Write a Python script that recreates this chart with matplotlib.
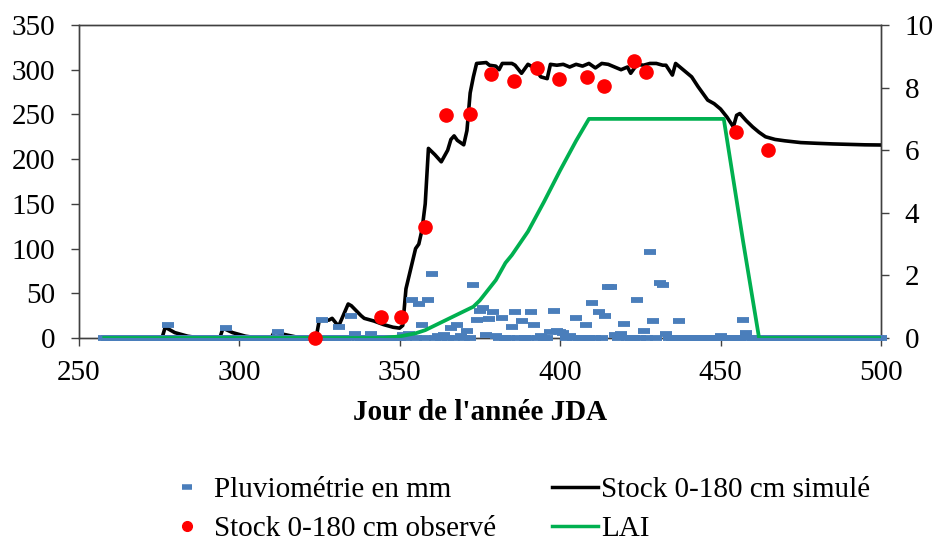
import numpy as np
import matplotlib
matplotlib.use("Agg")
import matplotlib.pyplot as plt
from matplotlib.lines import Line2D

plt.rcParams['font.family'] = ['Liberation Serif', 'DejaVu Serif']

# ---------------- data ----------------
# Daily rainfall (mm): every day 258..500, nonzero days listed below
rain_all_days = np.arange(258, 501)
rain_days = [278, 296, 312, 326, 331, 335, 336, 341, 351, 353, 354, 356, 357, 359, 360,
             362, 364, 366, 368, 369, 371, 373, 374, 375, 376, 377, 378, 379, 380, 382,
             385, 386, 388, 391, 392, 394, 397, 398, 399, 400, 401, 403, 405, 408, 410,
             412, 414, 415, 416, 417, 419, 420, 424, 426, 428, 429, 431, 432, 433, 437,
             450, 457, 458]
rain_mm = [14, 11, 7, 20, 12, 25, 5, 4, 3, 5, 43, 38, 14, 43, 72,
           2, 3, 11, 15, 2, 8, 59, 20, 30, 34, 3, 21, 29, 2, 22,
           12, 29, 19, 29, 15, 2, 7, 30, 8, 7, 6, 2, 22, 15, 39,
           29, 25, 57, 57, 3, 5, 16, 42, 8, 96, 19, 62, 59, 4, 19,
           2, 20, 6]

# Observed soil water stock 0-180 cm (mm)
obs_days = [323.6, 344.1, 350.6, 357.9, 364.6, 371.9, 378.6, 385.8, 392.7, 399.7,
            408.5, 413.6, 422.9, 426.9, 454.7, 464.9]
obs_mm = [0, 23, 23, 124, 249, 250, 295, 287, 302, 290,
          292, 282, 310, 297, 230, 210]

# Simulated soil water stock 0-180 cm (mm)
sim_days = [258, 276, 277, 280, 284, 288, 294, 295, 298, 302, 306, 310, 311, 314, 318,
            323, 324, 325, 328, 329, 331, 334, 335, 338, 339, 342, 345, 348, 350, 351,
            352, 353, 354, 355, 356, 357, 358, 359, 361, 363, 365, 366, 367, 368, 370,
            371, 372, 373, 374, 377, 378, 380, 381, 382, 385, 386, 388, 390, 392, 394,
            396, 397, 399, 401, 403, 405, 407, 409, 411, 413, 415, 417, 419, 421, 422,
            424, 426, 428, 430, 432, 433, 435, 436, 439, 441, 443, 446, 448, 450, 452,
            454, 455, 456, 458, 460, 462, 464, 467, 470, 475, 480, 485, 490, 495, 500]
sim_mm = [0, 0, 12, 6, 2, 0, 0, 11, 6, 2, 0, 0, 7, 4, 1,
          0, 0, 20, 20, 22, 13, 38, 36, 25, 22, 19, 15, 12, 11, 14,
          55, 70, 85, 100, 105, 121, 150, 212, 205, 197, 210, 222, 226, 221, 216,
          232, 274, 292, 307, 308, 305, 304, 300, 307, 307, 305, 296, 306, 302, 292,
          290, 306, 305, 306, 303, 306, 304, 307, 302, 307, 306, 303, 300, 303, 296,
          306, 305, 307, 307, 305, 305, 294, 307, 298, 292, 281, 266, 262, 256, 247,
          236, 249, 251, 243, 236, 230, 225, 222, 220.5, 218.5, 217.7, 217, 216.5, 216, 215.8]

# Leaf area index
lai_days = [258, 345, 350, 355, 358, 362, 365, 370, 373, 375, 380, 383, 385, 390, 395,
            400, 405, 409, 451, 457, 462, 500]
lai = [0, 0, 0.05, 0.15, 0.25, 0.45, 0.6, 0.85, 1.0, 1.2, 1.85, 2.4, 2.65, 3.4, 4.35,
       5.35, 6.3, 7.0, 7.0, 3.1, 0, 0]

x_ticks = [250, 300, 350, 400, 450, 500]
y_ticks = [0, 50, 100, 150, 200, 250, 300, 350]
y2_ticks = [0, 2, 4, 6, 8, 10]

# ---------------- figure ----------------
fig = plt.figure(figsize=(9.36, 5.42), dpi=100)
ax = fig.add_axes([0.0839, 0.3764, 0.9413 - 0.0839, 0.9539 - 0.3764])
ax2 = ax.twinx()
ax.set_zorder(ax2.get_zorder() + 1)
ax.patch.set_visible(False)

ax.set_xlim(250, 500)
ax.set_ylim(0, 350)
ax2.set_ylim(0, 10)

blue = '#4A7EBB'
green = '#00B050'

rain_full = np.zeros(len(rain_all_days))
for d, v in zip(rain_days, rain_mm):
    rain_full[d - 258] = v

ax.plot(sim_days, sim_mm, color='black', lw=2.6, zorder=2, solid_joinstyle='round')
ax.plot(rain_all_days, rain_full, ls='none', marker='_', ms=9, mew=4.2,
        color=blue, zorder=3, clip_on=False)
ax.plot(lai_days, lai, color=green, lw=2.7, zorder=4, transform=ax2.transData)
ax.plot(obs_days, obs_mm, ls='none', marker='o', ms=9.5, color='#FF0000',
        mec='#FF0000', zorder=5, clip_on=False)

spine_c = '#404040'
for a in (ax, ax2):
    for s in a.spines.values():
        s.set_color(spine_c)
        s.set_linewidth(1.0)

ax.set_xticks(x_ticks)
ax.set_yticks(y_ticks)
ax2.set_yticks(y2_ticks)
ax.tick_params(axis='x', direction='out', length=6, width=1, color=spine_c,
               labelsize=21, pad=10)
ax.tick_params(axis='y', direction='out', length=6, width=1, color=spine_c,
               labelsize=21, pad=11)
ax2.tick_params(axis='y', direction='out', length=6, width=1, color=spine_c,
                labelsize=21, pad=11)

ax.set_xlabel("Jour de l'année JDA", fontsize=21, fontweight='bold', labelpad=9)

handles = [
    Line2D([], [], ls='none', marker='_', ms=7, mew=4, color=blue),
    Line2D([], [], ls='none', marker='o', ms=7, color='#FF0000'),
    Line2D([], [], color='black', lw=2.5),
    Line2D([], [], color=green, lw=2.5),
]
labels = ['Pluviométrie en mm', 'Stock 0-180 cm observé',
          'Stock 0-180 cm simulé', 'LAI']
fig.legend(handles, labels, ncol=2, loc='center', bbox_to_anchor=(0.5525, 0.0605),
           frameon=False, fontsize=21, handlelength=1.6, handletextpad=0.1,
           columnspacing=1.92, labelspacing=0.42)

fig.savefig('out.png', dpi=100)
